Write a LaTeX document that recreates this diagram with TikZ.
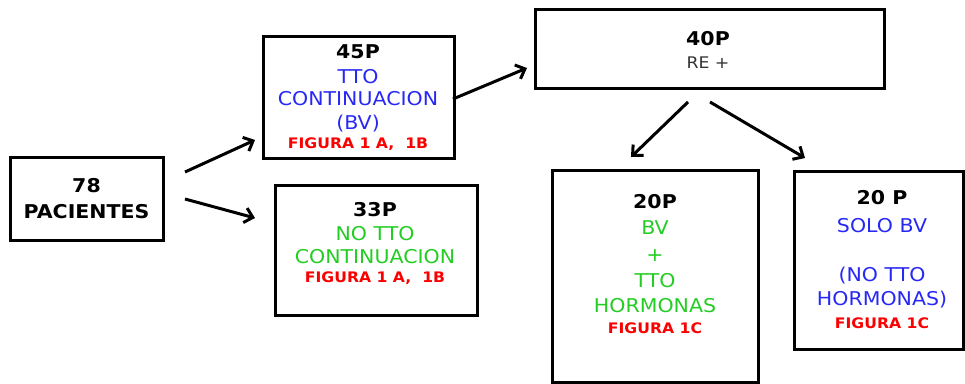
\documentclass[tikz,border=0pt]{standalone}
\usepackage{fontspec}
\setmainfont[FakeStretch=1.08]{DejaVu Sans}
\usetikzlibrary{arrows.meta}
\definecolor{tblue}{RGB}{40,40,245}
\definecolor{tgreen}{RGB}{35,205,35}
\definecolor{tred}{RGB}{250,0,0}
\definecolor{tgray}{RGB}{50,50,50}
\tikzset{
  box/.style={draw=black,line width=3pt,rectangle,inner sep=0pt},
  ln/.style={anchor=base,inner sep=0pt},
  ttl/.style={ln,font=\fontsize{19}{21}\selectfont\bfseries,text=black},
  bl/.style={ln,font=\fontsize{19}{21}\selectfont,text=tblue},
  gr/.style={ln,font=\fontsize{19}{21}\selectfont,text=tgreen},
  rd/.style={ln,font=\fontsize{14.5}{16}\selectfont\bfseries,text=tred},
  arr/.style={line width=3pt,-{Straight Barb[length=8pt,width=15pt,line width=3pt]}}
}
\begin{document}
\begin{tikzpicture}[x=1pt,y=-1pt]
\useasboundingbox (0,0) rectangle (965,383);
% boxes
\node[box,minimum width=153,minimum height=83] (p78) at (86.5,198.5) {};
\node[box,minimum width=191,minimum height=122] (p45) at (358.5,97) {};
\node[box,minimum width=202,minimum height=130] (p33) at (376,250) {};
\node[box,minimum width=349,minimum height=79] (p40) at (709.5,48.5) {};
\node[box,minimum width=206,minimum height=212] (p20a) at (655,276) {};
\node[box,minimum width=169,minimum height=178] (p20b) at (878.5,260) {};
% texts
\node[ttl] (t78a) at (86.5,192) {78};
\node[ttl] (t78b) at (86.5,218) {PACIENTES};

\node[ttl] (t45a) at (358,58) {45P};
\node[bl] (t45b) at (358,83) {TTO};
\node[bl] (t45c) at (358,105) {CONTINUACION};
\node[bl] (t45d) at (358,129) {(BV)};
\node[rd] (t45e) at (358,148) {FIGURA 1 A,\ \ 1B};

\node[ttl] (t33a) at (375,216) {33P};
\node[gr] (t33b) at (375,240) {NO TTO};
\node[gr] (t33c) at (375,263) {CONTINUACION};
\node[rd] (t33d) at (375,282) {FIGURA 1 A,\ \ 1B};

\node[ttl] (t40a) at (708,45) {40P};
\node[ln,font=\fontsize{16}{18}\selectfont,text=tgray] (t40b) at (708,68) {RE +};

\node[ttl] (t20a) at (655,208) {20P};
\node[gr] (t20b) at (655,234) {BV};
\node[gr] (t20c) at (655,261) {+};
\node[gr] (t20d) at (655,287) {TTO};
\node[gr] (t20e) at (655,312) {HORMONAS};
\node[rd] (t20f) at (655,333) {FIGURA 1C};

\node[ttl] (t2ba) at (882,204) {20 P};
\node[bl] (t2bb) at (882,232) {SOLO BV};
\node[bl] (t2bc) at (882,281) {(NO TTO};
\node[bl] (t2bd) at (882,305) {HORMONAS)};
\node[rd] (t2be) at (882,328) {FIGURA 1C};
% arrow end points
\coordinate (a1s) at (185,172); \coordinate (a1e) at (255,140);
\coordinate (a2s) at (185,199); \coordinate (a2e) at (255,218);
\coordinate (a3s) at (453,99);  \coordinate (a3e) at (527,68);
\coordinate (a4s) at (688,102); \coordinate (a4e) at (631,157);
\coordinate (a5s) at (710,102); \coordinate (a5e) at (805,158);
\draw[arr] (a1s) -- (a1e);
\draw[arr] (a2s) -- (a2e);
\draw[arr] (a3s) -- (a3e);
\draw[arr] (a4s) -- (a4e);
\draw[arr] (a5s) -- (a5e);
\end{tikzpicture}
\end{document}
